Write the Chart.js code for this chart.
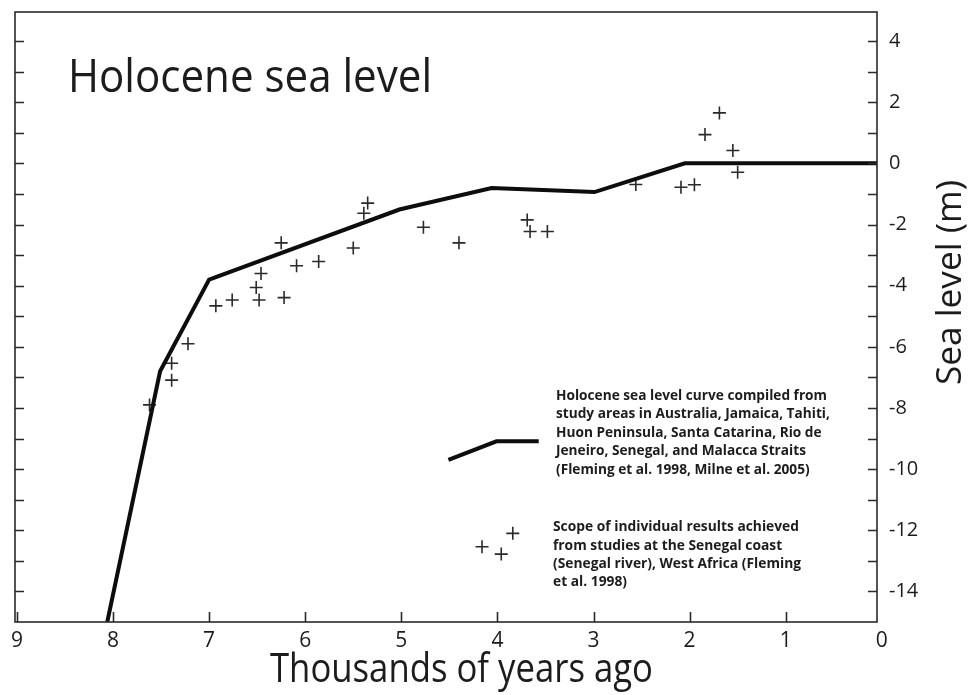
<!DOCTYPE html>
<html>
<head>
<meta charset="utf-8">
<title>Holocene sea level</title>
<script src="https://cdn.jsdelivr.net/npm/chart.js@4.4.0/dist/chart.umd.min.js"></script>
<style>
  html, body { margin: 0; padding: 0; background: #fff; }
  #wrap { width: 971px; height: 695px; }
</style>
</head>
<body>
<div id="wrap"><canvas id="seaChart" width="971" height="695"></canvas></div>
<script>
// compiled sea level curve (thousands of years ago, metres)
const curveAge = [8.06, 7.51, 7.0, 5.02, 4.06, 2.99, 2.05, 0];
const curveLevel = [-15, -6.8, -3.8, -1.51, -0.81, -0.94, 0, 0];

// individual results, Senegal coast
const sampleAge = [7.62, 7.39, 7.39, 7.22, 6.93, 6.76, 6.51, 6.48, 6.46, 6.25, 6.22, 6.09, 5.86, 5.50,
                   5.39, 5.35, 4.77, 4.40, 3.69, 3.66, 3.48, 2.56, 2.09, 1.95, 1.84, 1.69, 1.55, 1.50];
const sampleLevel = [-7.90, -6.54, -7.09, -5.90, -4.66, -4.47, -4.06, -4.47, -3.60, -2.60, -4.39, -3.35, -3.21, -2.77,
                     -1.63, -1.30, -2.09, -2.60, -1.85, -2.23, -2.23, -0.69, -0.78, -0.70, 0.94, 1.65, 0.42, -0.29];

// key symbols drawn inside the plot
const keyCurveAge = [4.51, 4.01, 3.57];
const keyCurveLevel = [-9.70, -9.09, -9.09];
const keyCrossAge = [4.16, 3.96, 3.84];
const keyCrossLevel = [-12.54, -12.78, -12.10];

const xTicks = [9, 8, 7, 6, 5, 4, 3, 2, 1, 0];
const yTicks = [4, 2, 0, -2, -4, -6, -8, -10, -12, -14];
const yTickMarks = [4, 3, 2, 1, 0, -1, -2, -3, -4, -5, -6, -7, -8, -9, -10, -11, -12, -13, -14];

const curveText = [
  'Holocene sea level curve compiled from',
  'study areas in Australia, Jamaica, Tahiti,',
  'Huon Peninsula, Santa Catarina, Rio de',
  'Jeneiro, Senegal, and Malacca Straits',
  '(Fleming et al. 1998, Milne et al. 2005)'
];
const crossText = [
  'Scope of individual results achieved',
  'from studies at the Senegal coast',
  '(Senegal river), West Africa (Fleming',
  'et al. 1998)'
];

const ink = '#1c1c1c';

function zip(xs, ys) {
  return xs.map((v, i) => ({ x: v, y: ys[i] }));
}

// draw text squeezed/stretched to a given width
function fitText(ctx, text, x, y, width, font) {
  ctx.font = font;
  const s = width / ctx.measureText(text).width;
  ctx.save();
  ctx.translate(x, y);
  ctx.scale(s, 1);
  ctx.fillText(text, 0, 0);
  ctx.restore();
}

function textBlock(ctx, lines, x, tops, firstWidth, font) {
  ctx.font = font;
  const s = firstWidth / ctx.measureText(lines[0]).width;
  lines.forEach((t, i) => {
    ctx.save();
    ctx.translate(x, tops[i]);
    ctx.scale(s, 1);
    ctx.fillText(t, 0, 0);
    ctx.restore();
  });
}

const framePlugin = {
  id: 'frame',
  afterDatasetsDraw(chart) {
    const { ctx, chartArea: a, scales: { x, y } } = chart;
    ctx.save();
    ctx.strokeStyle = '#2a2a2a';
    ctx.lineWidth = 1.6;
    ctx.strokeRect(a.left, a.top, a.right - a.left, a.bottom - a.top);

    // inward tick marks
    ctx.beginPath();
    yTickMarks.forEach(v => {
      const py = Math.round(y.getPixelForValue(v)) + 0.5;
      ctx.moveTo(a.right, py); ctx.lineTo(a.right - 9, py);
      ctx.moveTo(a.left, py); ctx.lineTo(a.left + 9, py);
    });
    xTicks.forEach(v => {
      const px = Math.round(x.getPixelForValue(v)) + 0.5;
      if (px > a.left + 2 && px < a.right - 2) {
        ctx.moveTo(px, a.bottom); ctx.lineTo(px, a.bottom - 10);
      }
    });
    ctx.stroke();

    ctx.fillStyle = ink;
    ctx.textBaseline = 'middle';
    ctx.textAlign = 'left';

    // plot title
    fitText(ctx, 'Holocene sea level', 68, 79, 364, '45px "Open Sans"');

    // axis titles
    fitText(ctx, 'Thousands of years ago', 270, 670, 383, '41px "Open Sans"');
    ctx.save();
    ctx.translate(951, 385);
    ctx.rotate(-Math.PI / 2);
    fitText(ctx, 'Sea level (m)', 0, 0, 205, '34px "Open Sans"');
    ctx.restore();

    // key texts
    textBlock(ctx, curveText, 556, [396, 414.3, 432.7, 451, 470], 271, 'bold 14px "Open Sans"');
    textBlock(ctx, crossText, 553, [526.7, 545.7, 564, 582.3], 246, 'bold 14px "Open Sans"');
    ctx.restore();
  }
};

const crossStyle = {
  showLine: false,
  pointStyle: 'cross',
  pointRadius: 6.5,
  pointBorderWidth: 1.6,
  pointBorderColor: '#2a2a2a',
  pointBackgroundColor: '#2a2a2a'
};

new Chart(document.getElementById('seaChart'), {
  type: 'scatter',
  data: {
    datasets: [
      {
        label: 'Sea level curve',
        data: zip(curveAge, curveLevel),
        showLine: true,
        borderColor: '#0d0d0d',
        borderWidth: 4,
        pointRadius: 0,
        tension: 0
      },
      Object.assign({ label: 'Senegal results', data: zip(sampleAge, sampleLevel) }, crossStyle),
      {
        label: 'key curve',
        data: zip(keyCurveAge, keyCurveLevel),
        showLine: true,
        borderColor: '#0d0d0d',
        borderWidth: 4,
        pointRadius: 0,
        tension: 0
      },
      Object.assign({ label: 'key crosses', data: zip(keyCrossAge, keyCrossLevel) }, crossStyle)
    ]
  },
  options: {
    responsive: false,
    animation: false,
    layout: { padding: { left: 15, top: 12, right: 0, bottom: 0 } },
    plugins: { legend: { display: false }, tooltip: { enabled: false } },
    scales: {
      x: {
        type: 'linear',
        reverse: true,
        min: 0.05,
        max: 9.02,
        afterBuildTicks: s => { s.ticks = xTicks.map(v => ({ value: v })); },
        afterFit: s => { s.height = 73; s.paddingLeft = 0; s.paddingRight = 0; },
        grid: { display: false, drawTicks: false },
        border: { display: false },
        ticks: {
          padding: 6,
          autoSkip: false,
          maxRotation: 0,
          color: ink,
          font: { family: 'Open Sans', size: 21 }
        }
      },
      y: {
        type: 'linear',
        position: 'right',
        min: -15,
        max: 4.95,
        afterBuildTicks: s => { s.ticks = yTicks.map(v => ({ value: v })); },
        afterFit: s => { s.width = 94; s.paddingTop = 0; s.paddingBottom = 0; },
        grid: { display: false, drawTicks: false },
        border: { display: false },
        ticks: {
          padding: 12,
          crossAlign: 'near',
          autoSkip: false,
          color: ink,
          font: { family: 'Open Sans', size: 20 }
        }
      }
    }
  },
  plugins: [framePlugin]
});
</script>
</body>
</html>
